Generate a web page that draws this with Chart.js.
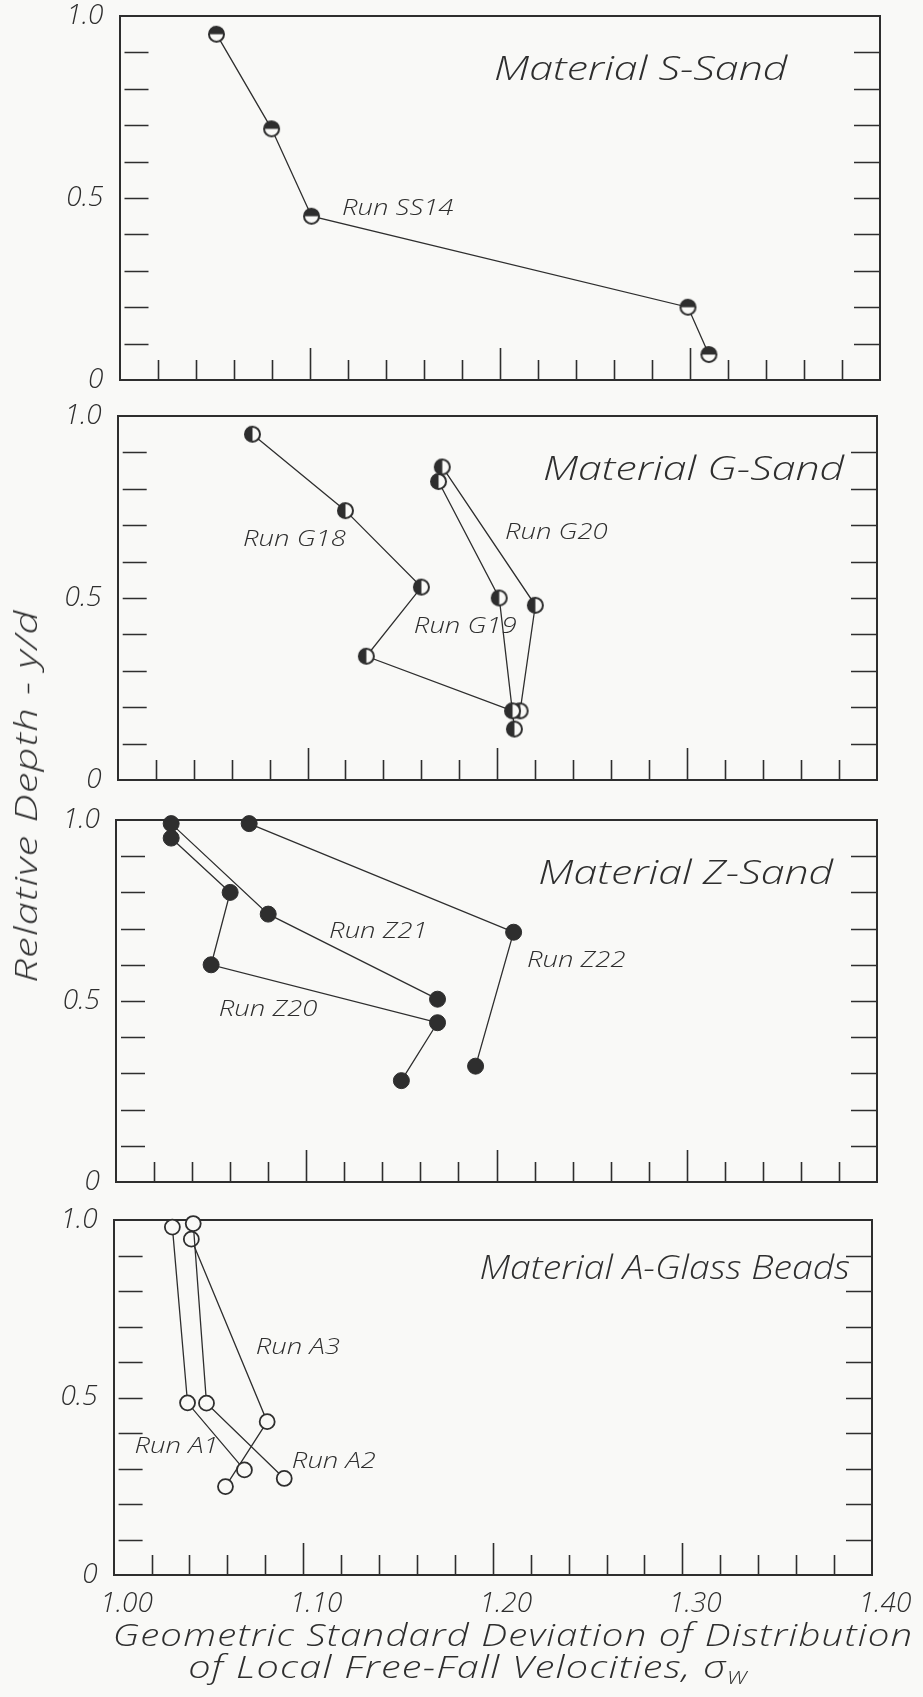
<!DOCTYPE html>
<html>
<head>
<meta charset="utf-8">
<script src="https://cdn.jsdelivr.net/npm/chart.js@4.4.1/dist/chart.umd.min.js"></script>
<style>
  body { margin: 0; background: #f9f9f7; width: 923px; height: 1697px; position: relative; overflow: hidden;
         font-family: "Open Sans", Lato, sans-serif; font-style: italic; font-weight: 300; color: #2e2e2e; }
  canvas { position: absolute; left: 0; }
  .axtitle { position: absolute; white-space: nowrap; font-size: 32px; line-height: 34px; letter-spacing: 1px; }
  #ytitle { left: 25px; top: 796px; transform: translate(-50%, -50%) rotate(-90deg) scaleX(1.3); }
  #xtitle1 { left: 513px; top: 1617px; transform: translateX(-50%) scaleX(1.2); }
  #xtitle2 { left: 468px; top: 1649px; transform: translateX(-50%) scaleX(1.24); }
  sub { font-size: 19px; vertical-align: -6px; }
</style>
</head>
<body>
<canvas id="chartS"></canvas>
<canvas id="chartG"></canvas>
<canvas id="chartZ"></canvas>
<canvas id="chartA"></canvas>
<div class="axtitle" id="ytitle">Relative Depth - y/d</div>
<div class="axtitle" id="xtitle1">Geometric Standard Deviation of Distribution</div>
<div class="axtitle" id="xtitle2">of Local Free-Fall Velocities, σ<sub>W</sub></div>
<script>
// ---- data (x = geometric std dev, y = relative depth y/d) ----
// Material S-Sand
const xSS14 = [1.051, 1.080, 1.101, 1.299, 1.310];
const ySS14 = [0.95, 0.69, 0.45, 0.20, 0.07];
// Material G-Sand
const xG18 = [1.071, 1.120, 1.160, 1.131, 1.208];
const yG18 = [0.95, 0.74, 0.53, 0.34, 0.19];
const xG19 = [1.169, 1.201, 1.209];
const yG19 = [0.82, 0.50, 0.14];
const xG20 = [1.171, 1.220, 1.212];
const yG20 = [0.86, 0.48, 0.19];
// Material Z-Sand
const xZ20 = [1.029, 1.060, 1.050, 1.169, 1.150];
const yZ20 = [0.95, 0.80, 0.60, 0.44, 0.28];
const xZ21 = [1.029, 1.080, 1.169];
const yZ21 = [0.99, 0.74, 0.505];
const xZ22 = [1.070, 1.209, 1.189];
const yZ22 = [0.99, 0.69, 0.32];
// Material A-Glass Beads
const xA1 = [1.031, 1.039, 1.069];
const yA1 = [0.98, 0.485, 0.296];
const xA2 = [1.042, 1.049, 1.090];
const yA2 = [0.99, 0.484, 0.272];
const xA3 = [1.041, 1.081, 1.059];
const yA3 = [0.946, 0.432, 0.249];

// axis ranges / tick labels
const xMin = 1.0, xMax = 1.4, xStep = 0.02;
const yMin = 0, yMax = 1, yStep = 0.1;
const xTickLabels = ['1.00', '1.10', '1.20', '1.30', '1.40'];
const yTickLabels = ['0', '0.5', '1.0'];

// text notes, placed in data units
const notesS = [['Material S-Sand', 1.197, 0.85, 'big'], ['Run SS14', 1.117, 0.47, 'small']];
const notesG = [['Material G-Sand', 1.224, 0.85, 'big'], ['Run G18', 1.066, 0.66, 'small'],
                ['Run G19', 1.156, 0.42, 'small'], ['Run G20', 1.204, 0.68, 'small']];
const notesZ = [['Material Z-Sand', 1.222, 0.85, 'big'], ['Run Z21', 1.112, 0.69, 'small'],
                ['Run Z22', 1.216, 0.61, 'small'], ['Run Z20', 1.054, 0.477, 'small']];
const notesA = [['Material A-Glass Beads', 1.193, 0.86, 'big'], ['Run A3', 1.075, 0.64, 'small'],
                ['Run A1', 1.011, 0.36, 'small'], ['Run A2', 1.094, 0.32, 'small']];

const ink = '#2e2e2e';
const paper = '#f9f9f7';
const fontFam = '"Open Sans", Lato, sans-serif';

function pts(xs, ys) {
    return xs.map((x, i) => ({ x: x, y: ys[i] }));
}

// half filled marker
function halfDot(side) {
    const c = document.createElement('canvas');
    c.width = 19; c.height = 19;
    const g = c.getContext('2d');
    g.fillStyle = paper;
    g.beginPath(); g.arc(9.5, 9.5, 7.5, 0, 2 * Math.PI); g.fill();
    g.fillStyle = ink;
    g.beginPath();
    if (side === 'top') g.arc(9.5, 9.5, 7.5, Math.PI, 2 * Math.PI);
    else g.arc(9.5, 9.5, 7.5, Math.PI / 2, Math.PI * 1.5);
    g.closePath(); g.fill();
    g.strokeStyle = ink; g.lineWidth = 2;
    g.beginPath(); g.arc(9.5, 9.5, 7.5, 0, 2 * Math.PI); g.stroke();
    return c;
}

const markS = { pointStyle: halfDot('top'), pointRadius: 9 };
const markG = { pointStyle: halfDot('left'), pointRadius: 9 };
const markZ = { pointStyle: 'circle', pointRadius: 8, pointBackgroundColor: ink, pointBorderColor: ink, pointBorderWidth: 1 };
const markA = { pointStyle: 'circle', pointRadius: 7.5, pointBackgroundColor: paper, pointBorderColor: ink, pointBorderWidth: 1.8 };

function series(xs, ys, mark) {
    return Object.assign({
        data: pts(xs, ys),
        showLine: true,
        borderColor: ink,
        borderWidth: 1.3,
        clip: false,
        pointHoverRadius: 0
    }, mark);
}

// ticks pointing into the frame, placed from the scales
const innerTicks = {
    id: 'innerTicks',
    afterDatasetsDraw(chart) {
        const { ctx, chartArea: a, scales } = chart;
        ctx.save();
        ctx.strokeStyle = ink;
        ctx.lineWidth = 1.6;
        ctx.beginPath();
        scales.x.ticks.forEach(t => {
            const v = Math.round(t.value * 100);
            if (v <= 100 || v >= 140) return;
            const px = Math.round(scales.x.getPixelForValue(t.value)) + 0.5;
            const len = v % 10 === 0 ? 32 : 20;
            ctx.moveTo(px, a.bottom);
            ctx.lineTo(px, a.bottom - len);
        });
        scales.y.ticks.forEach(t => {
            const v = Math.round(t.value * 10);
            if (v <= 0 || v >= 10) return;
            const py = Math.round(scales.y.getPixelForValue(t.value)) + 0.5;
            ctx.moveTo(a.left + 5, py);
            ctx.lineTo(a.left + 29, py);
            ctx.moveTo(a.right - 26, py);
            ctx.lineTo(a.right, py);
        });
        ctx.stroke();
        ctx.restore();
    }
};

// lettering on the plot, stretched a little like the hand lettering,
// squeezed back if it would run into the right-hand ticks
const notesPlugin = {
    id: 'notes',
    afterDraw(chart, args, opts) {
        const { ctx, scales, chartArea } = chart;
        ctx.save();
        ctx.fillStyle = ink;
        ctx.textBaseline = 'middle';
        ctx.textAlign = 'left';
        opts.items.forEach(n => {
            const big = n[3] === 'big';
            ctx.font = big ? 'italic 300 33px ' + fontFam : 'italic 300 22px ' + fontFam;
            const px = scales.x.getPixelForValue(n[1]);
            const w = ctx.measureText(n[0]).width;
            let sx = big ? 1.3 : 1.25;
            sx = Math.min(sx, (chartArea.right - 22 - px) / w);
            ctx.save();
            ctx.translate(px, scales.y.getPixelForValue(n[2]));
            ctx.scale(sx, 1);
            ctx.fillText(n[0], 0, 0);
            ctx.restore();
        });
        ctx.restore();
    }
};

function makeChart(id, box, datasets, notes, showX) {
    const topRoom = 40;
    const bottomRoom = showX ? 62 : 40;
    const cv = document.getElementById(id);
    cv.width = 923;
    cv.height = Math.round(box.bottom - box.top + topRoom + bottomRoom);
    cv.style.top = (box.top - topRoom) + 'px';
    const frame = { display: true, color: ink, width: 2 };
    const noGrid = { display: true, drawOnChartArea: false, drawTicks: false };
    return new Chart(cv, {
        type: 'scatter',
        data: { datasets: datasets },
        options: {
            responsive: false,
            animation: false,
            layout: { padding: 0 },
            plugins: { legend: { display: false }, tooltip: { enabled: false }, notes: { items: notes } },
            scales: {
                x: {
                    type: 'linear', position: 'bottom', min: xMin, max: xMax,
                    border: frame, grid: noGrid,
                    ticks: {
                        display: showX, stepSize: xStep, autoSkip: false, maxRotation: 0,
                        padding: 12, labelOffset: 13, color: ink,
                        font: { family: fontFam, style: 'italic', weight: 300, size: 28 },
                        callback: v => {
                            const r = Math.round(v * 100);
                            return r % 10 === 0 ? xTickLabels[(r - 100) / 10] : '';
                        }
                    },
                    afterFit: s => { s.height = bottomRoom; }
                },
                xTop: {
                    type: 'linear', position: 'top', min: xMin, max: xMax,
                    border: frame, grid: noGrid, ticks: { display: false },
                    afterFit: s => { s.height = topRoom; }
                },
                y: {
                    type: 'linear', position: 'left', min: yMin, max: yMax,
                    border: frame, grid: noGrid,
                    ticks: {
                        stepSize: yStep, autoSkip: false, padding: 16, color: ink,
                        font: { family: fontFam, style: 'italic', weight: 300, size: 28 },
                        callback: v => {
                            const r = Math.round(v * 10);
                            return r === 0 ? yTickLabels[0] : r === 5 ? yTickLabels[1] : r === 10 ? yTickLabels[2] : '';
                        }
                    },
                    afterFit: s => { s.width = box.left; }
                },
                yRight: {
                    type: 'linear', position: 'right', min: yMin, max: yMax,
                    border: frame, grid: noGrid, ticks: { display: false },
                    afterFit: s => { s.width = 923 - box.right; }
                }
            }
        },
        plugins: [innerTicks, notesPlugin]
    });
}

makeChart('chartS', { left: 119.5, right: 880, top: 16, bottom: 380 },
    [series(xSS14, ySS14, markS)], notesS, false);
makeChart('chartG', { left: 117.7, right: 877, top: 416, bottom: 780 },
    [series(xG18, yG18, markG), series(xG19, yG19, markG), series(xG20, yG20, markG)], notesG, false);
makeChart('chartZ', { left: 116, right: 877, top: 820, bottom: 1182 },
    [series(xZ20, yZ20, markZ), series(xZ21, yZ21, markZ), series(xZ22, yZ22, markZ)], notesZ, false);
makeChart('chartA', { left: 113.6, right: 872, top: 1220, bottom: 1575 },
    [series(xA1, yA1, markA), series(xA2, yA2, markA), series(xA3, yA3, markA)], notesA, true);
</script>
</body>
</html>
